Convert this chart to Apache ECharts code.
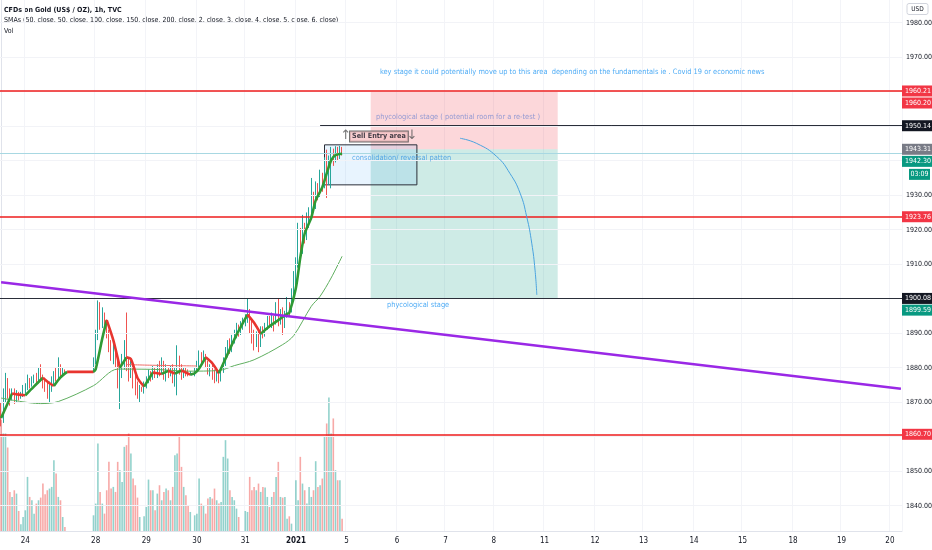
<!DOCTYPE html>
<html><head><meta charset="utf-8">
<script src="https://cdn.jsdelivr.net/npm/echarts@6/dist/echarts.min.js"></script>
<style>html,body{margin:0;padding:0;background:#fff}#c{width:932px;height:550px}</style>
</head><body><div id="c"></div>
<script>
const FONT = "'Liberation Sans Narrow','DejaVu Sans Condensed','Liberation Sans',sans-serif";
const TOTAL_SLOTS = 410;
const dayLabels = ['24','28','29','30','31','2021','5','6','7','8','11','12','13','14','15','18','19','20'];
const dayStarts = [11,43,66,89,111,134,157,180,202,224,247,270,292,315,337,360,382,404];
const yTicks = [1840,1850,1860,1870,1880,1890,1900,1910,1920,1930,1940,1950,1960,1970,1980];

const firstOpen = 1868;
const closes = [1865,1872,1877,1873,1871,
1872.5,1871,1872,1871.5,1872,1873.5,
1874,1876,1875,1876.5,1877,1876,1878,1877,1876,
1875,1873.5,1874.5,1876,1878,
1877.5,1879,1878,1879,1878.7,
1878.7,1878.7,1878.7,1878.7,1878.7,1878.7,1878.7,1878.7,1878.7,1878.7,1878.7,1878.7,
1882,1889,1896,1893,1895,1893.5,1890,
1886,1884,1885.5,1882,1878,1880,1882,1886,1881,
1879,1880.5,1877,1875,1873,1874,1873.5,
1875,1876.5,1878,1877,1879,1878,
1879.5,1878.5,1880,1877.5,1879,1878,1879.5,1877,1879,1882,1879,1878,1879,1878.5,1878,1878.3,1878.3,
1879.5,1881,1883,1882,1883.5,1881,1879.5,
1880,1878.5,1877,1878,1876.5,1879,
1882,1884,1886.5,1885.5,1888,1889.5,1891,1890,1892,1893,1894,1896,
1892,1890,1887.5,1889,1888,1890.5,1890,
1892,1893.5,1892.5,1894,1893,1895.5,1894,1896,1893,
1895,1897.5,1896.5,1901,1906,1910.5,1919,1914,1920,1918,1923,1924,1929,1927,1932,1930.5,1935,1933,1938,1934,1939,1942.5,1940.5,1943,1941.5,1943.3,1942.3];
const highs = [1870,1874,1878.5,1877,1874,
1874,1874,1873.5,1873,1873,1875,
1875.5,1878,1877,1877.5,1878,1878.5,1880,1881,1878,
1877,1876,1876,1877.5,1879,
1880,1883,1881,1880,1879.5,
1878.7,1878.7,1878.7,1878.7,1878.7,1878.7,1878.7,1878.7,1878.7,1878.7,1878.7,1878.7,
1883,1891,1899.5,1899,1897.5,1896,1894,
1891,1888,1887,1886.5,1883,1881,1884,1888,1896,
1883,1882,1881,1878,1876,1875,1874.5,
1876,1877.5,1879.5,1879,1880.5,1880,
1881,1882,1883,1882,1881,1880,1880.5,1881,1880,1886.5,1883.5,1881,1880,1880,1879.5,1879,1878.5,
1880,1882,1885,1884.5,1885,1884,1882,
1881,1881,1879.5,1879,1879,1880,
1883,1886,1888,1888.5,1889.5,1891,1893,1892.5,1893.5,1894.5,1895.5,1900,
1897,1894,1891,1890.5,1891,1892,1892,
1893,1895,1895,1896,1895,1899,1900,1897,1897.5,
1896.5,1900.5,1899,1903,1908,1912,1922,1920.5,1924.3,1922,1925,1926.5,1935,1931,1934,1933.5,1937.4,1936.5,1941,1943.2,1941.5,1944,1943.5,1944.2,1944,1944.3,1944];
const lows = [1863,1864,1870,1871,1869,
1870.5,1869.5,1870,1870.5,1871,1871.5,
1872.5,1873.5,1874,1874.5,1875.5,1875,1875.5,1876,1874,
1873,1871,1869.8,1873,1875,
1876,1877,1877,1877.5,1878,
1878.7,1878.7,1878.7,1878.7,1878.7,1878.7,1878.7,1878.7,1878.7,1878.7,1878.7,1878.7,
1878.5,1881,1888,1891,1891.5,1892,1888.5,
1884.5,1882,1881,1880,1874,1868,1877,1879.5,1879,
1876,1877,1874,1872,1871,1870,1873,
1872.5,1874,1875.5,1876,1876.5,1877,
1877,1877.5,1878,1876.5,1876,1877,1877.5,1875.5,1874.5,1872,1878,1876.5,1877,1877.5,1877.5,1877.8,1878.1,
1877.5,1878.5,1880,1881,1881.5,1880,1878,
1877.5,1876.5,1875.5,1876,1875.5,1876,
1878.5,1880.5,1883,1884,1884.5,1887,1888.5,1889,1889.5,1891,1892,1893,
1890,1887,1885,1886,1884.5,1886,1888.5,
1889,1891,1891.5,1891.5,1890.5,1892.5,1892,1892.5,1889.5,
1891.5,1894.5,1895,1896,1900.5,1903,1909,1912.5,1913,1916,1917,1920.5,1923,1925,1926,1928.5,1929.5,1931,1932,1929.2,1933,1932,1938.5,1939.5,1940,1940.5,1941.5];
const volumes = [332,292,292,250,117,102,122,112,60,20,42,62,162,102,92,52,82,92,100,142,110,122,127,132,212,172,102,92,42,12,
0,0,0,0,0,0,0,0,0,0,0,0,
47,82,262,117,82,52,122,207,127,132,
117,207,182,147,252,257,292,232,157,137,
100,42,0,44,72,154,122,122,62,112,
137,92,117,127,122,92,132,227,232,282,
192,132,107,77,57,0,47,52,157,82,
77,52,97,102,97,127,92,82,87,222,
272,217,122,102,92,67,42,0,0,60,
57,162,122,132,122,142,117,132,130,102,
72,102,117,162,207,102,100,102,37,44,
22,0,152,92,222,142,122,82,132,102,
122,209,132,137,157,282,322,400,292,337,
182,152,152,37];

const fastSMA = [[0,1865.4],[5,1872.5],[8,1872.2],[11,1872.0],[15,1874.6],[19,1877.1],[22,1875.5],[24,1874.7],[27,1877.2],[30,1878.8],[42,1878.8],[43,1879.6],[46,1888.5],[48,1893.8],[51,1888],[54,1880],[57,1883],[59,1882.5],[62,1877],[65,1874.5],[69,1878.6],[73,1878.2],[76,1879.1],[79,1878.3],[82,1879.2],[86,1878],[88,1878.4],[90,1879.8],[93,1883],[96,1881.3],[99,1878.4],[103,1884],[107,1889.5],[112,1895.4],[115,1893],[118,1889.8],[122,1892],[126,1893.8],[130,1895.6],[131,1895.9],[134,1903.1],[136,1911.9],[138,1918.9],[141,1923.5],[143,1928.5],[146,1932.3],[148,1936.3],[150,1940.1],[152,1941.6],[155,1942]];
const slowSMA = [[0,1871.2],[18,1869.6],[26,1870.2],[42,1874.8],[53,1879.6],[70,1879.5],[85,1879],[99,1879.2],[106,1880.6],[115,1882.3],[128,1886.7],[133,1889.3],[141,1897.8],[145,1900.7],[150,1906],[155,1912.3]];
const midSMA = [[57,1880.9],[70,1880.7],[89,1880.5]];
const trendLine = [[0,1904.8],[409,1873.9]];
const arcPath = [[208.6,1946.5],[216.2,1945.0],[225.3,1941.2],[231.3,1936.3],[235.9,1930.6],[238.9,1923.8],[241.2,1916.1],[242.7,1908.3],[243.5,1901.1]];

const redLevels = [1960.21, 1923.76, 1860.70];
const blackLevel = 1900.08;
const sellLevel = 1950.14, sellLevelFrom = 145;
const lastPrice = 1942.30, prevPrice = 1943.31, countdown = '03:09', bidPrice = 1899.59, stopTag = 1960.20;
const posFrom = 168, posTo = 253, stopPrice = 1960.2, entryPrice = 1943.3, targetPrice = 1900.1;
const boxFrom = 147, boxTo = 189, boxTop = 1944.6, boxBottom = 1933.0;

const notes = [
  {x:172.2, y:1965.7, text:'key stage it could potentially move up to this area  depending on the fundamentals ie . Covid 19 or economic news', color:'#2196f3'},
  {x:170.4, y:1952.7, text:'phycological stage ( potential room for a re-test )', color:'#7b8bd1'},
  {x:159.5, y:1940.8, text:'consolidation/ reversal patten', color:'#3b97e3'},
  {x:175.4, y:1898.2, text:'phycological stage', color:'#2196f3'}
];

const UP = '#26a69a', DOWN = '#ef5350';
const candles = closes.map((c,i)=>[i===0?firstOpen:closes[i-1], c, lows[i], highs[i]]);
const volData = volumes.map((v,i)=>({value:v, itemStyle:{color: candles[i][1] >= candles[i][0] ? 'rgba(38,166,154,0.5)' : 'rgba(239,83,80,0.5)'}}));
const categories = Array.from({length: TOTAL_SLOTS}, (_, i) => String(i));
const labelMap = {}; dayStarts.forEach((s,k)=>labelMap[s]=dayLabels[k]);

const runs = [];
for (let k=0;k<fastSMA.length-1;k++){
  const a=fastSMA[k], b=fastSMA[k+1]; const up = b[1] > a[1];
  const last = runs[runs.length-1];
  if (last && last.up === up) last.pts.push(b); else runs.push({up, pts:[a,b]});
}
const fastSeries = runs.map(r=>({type:'line', xAxisIndex:1, yAxisIndex:0, data:r.pts, showSymbol:false, smooth:0.25, silent:true, z:5,
  lineStyle:{color: r.up ? '#2f9a35' : '#e8352f', width:2.6}}));

const full = v => [{coord:[-0.5,v]},{coord:[409.5,v]}];
const option = {
  animation:false,
  grid:{left:0,right:30,top:0,bottom:19, containLabel:false, outerBoundsMode:'none'},
  xAxis:[
    {type:'category', data:categories, boundaryGap:true, gridIndex:0,
     axisLine:{show:true, lineStyle:{color:'#e0e3eb'}}, axisTick:{show:false},
     axisLabel:{interval:(idx)=>labelMap[idx]!==undefined, margin:6, fontSize:8, color:'#131722', fontFamily:FONT,
       formatter:(v)=>{const l=labelMap[Number(v)]; if(l===undefined) return ''; return l==='2021' ? '{b|2021}' : l;},
       rich:{b:{fontWeight:'bold', fontSize:8, color:'#131722', fontFamily:FONT}}},
     splitLine:{show:true, interval:(idx)=>labelMap[idx]!==undefined, lineStyle:{color:'#f3f4f8'}}},
    {type:'value', min:-0.5, max:409.5, show:false, gridIndex:0}
  ],
  yAxis:[
    {type:'value', position:'right', min:1832.67, max:1986.58, scale:true,
     axisLine:{show:true, lineStyle:{color:'#e0e3eb'}}, axisTick:{show:false}, splitLine:{show:false},
     axisLabel:{customValues:yTicks, formatter:v=>Number(v).toFixed(2), fontSize:7, color:'#131722', margin:4, fontFamily:FONT}},
    {type:'value', min:0, max:1590, show:false}
  ],
  series:[
    {type:'line', xAxisIndex:1, yAxisIndex:0, data:[], silent:true, z:0,
     markLine:{silent:true, symbol:'none', label:{show:false}, animation:false,
       lineStyle:{color:'#f2f3f7', width:1, type:'solid'},
       data: yTicks.map(full)}},
    {type:'bar', xAxisIndex:0, yAxisIndex:1, data:volData, barWidth:1.6, silent:true, z:1},
    {type:'candlestick', xAxisIndex:0, yAxisIndex:0, data:candles, barWidth:1.2, silent:true, z:3,
     itemStyle:{color:UP, color0:DOWN, borderColor:UP, borderColor0:DOWN, borderWidth:1}},
    {type:'line', xAxisIndex:1, yAxisIndex:0, data:slowSMA, showSymbol:false, smooth:0.3, silent:true, z:4,
     lineStyle:{color:'#5fae5f', width:1}},
    {type:'line', xAxisIndex:1, yAxisIndex:0, data:midSMA, showSymbol:false, smooth:true, silent:true, z:4,
     lineStyle:{color:'#ef6a66', width:1}},
    ...fastSeries,
    {type:'line', xAxisIndex:1, yAxisIndex:0, data:[], silent:true, z:2,
     markArea:{silent:true, data:[
       [{coord:[posFrom,stopPrice], itemStyle:{color:'rgba(242,54,69,0.2)'}},{coord:[posTo,entryPrice]}],
       [{coord:[posFrom,entryPrice], itemStyle:{color:'rgba(8,153,129,0.2)'}},{coord:[posTo,targetPrice]}],
       [{coord:[boxFrom,boxTop], itemStyle:{color:'rgba(33,150,243,0.1)', borderColor:'#2a2e39', borderWidth:1}},{coord:[boxTo,boxBottom]}]
     ]}},
    {type:'line', xAxisIndex:1, yAxisIndex:0, data:[], silent:true, z:6,
     markLine:{silent:true, symbol:'none', label:{show:false}, animation:false, data:[
       ...redLevels.map(v=>{const d=full(v); d[0].lineStyle={color:'#ee1c1c', width:1.5, type:'solid'}; return d;}),
       (()=>{const d=full(blackLevel); d[0].lineStyle={color:'#2a2e39', width:1, type:'solid'}; return d;})(),
       [{coord:[sellLevelFrom,sellLevel], lineStyle:{color:'#2a2e39', width:1, type:'solid'}},{coord:[409.5,sellLevel]}],
       (()=>{const d=full(lastPrice); d[0].lineStyle={color:'#a8d8e2', width:1, type:'solid'}; return d;})()
     ]}},
    {type:'line', xAxisIndex:1, yAxisIndex:0, data:trendLine, showSymbol:false, silent:true, z:7,
     lineStyle:{color:'#9a28e6', width:2.5}},
    {type:'line', xAxisIndex:1, yAxisIndex:0, data:arcPath, showSymbol:false, smooth:true, silent:true, z:7,
     lineStyle:{color:'#4aa3df', width:1}},
    {type:'scatter', xAxisIndex:1, yAxisIndex:0, symbolSize:0, silent:true, z:8,
     data:[
       ...notes.map(n=>({value:[n.x,n.y], label:{show:true, position:'right', distance:0, formatter:n.text, color:n.color, fontSize:7.4, fontFamily:FONT}})),
       {value:[158.6,1947.0], label:{show:true, position:'right', distance:0, formatter:'Sell Entry area', color:'#131722', fontWeight:'bold', fontSize:7.2, fontFamily:FONT,
          backgroundColor:'#f6c3c5', borderColor:'#4a4a4a', borderWidth:1, padding:[2,2,1,2]}},
       {value:[156.6,1947.3], label:{show:true, position:'inside', formatter:'↑', color:'#555', fontSize:13, fontFamily:'DejaVu Sans'}},
       {value:[186.8,1947.3], label:{show:true, position:'inside', formatter:'↓', color:'#555', fontSize:13, fontFamily:'DejaVu Sans'}}
     ]}
  ],
  graphic:[
    {type:'text', style:{x:4, y:10, text:'CFDs on Gold (US$ / OZ), 1h, TVC', font:"bold 7px "+FONT, fill:'#131722', verticalAlign:'middle'}},
    {type:'text', style:{x:4, y:20.5, text:'SMAs (50, close, 50, close, 100, close, 150, close, 200, close, 2, close, 3, close, 4, close, 5, close, 6, close)', font:"7px "+FONT, fill:'#131722', verticalAlign:'middle'}},
    {type:'text', style:{x:4, y:31, text:'Vol', font:"7px "+FONT, fill:'#131722', verticalAlign:'middle'}}
  ]
};
const chart = echarts.init(document.getElementById('c'), null, {renderer:'canvas'});
chart.setOption(option);

const tags = [
  {v:1960.21, bg:'#f23645', dy:0},
  {v:stopTag, bg:'#f23645', dy:12},
  {v:sellLevel, bg:'#131722', dy:0},
  {v:prevPrice, bg:'#787b86', dy:0},
  {v:lastPrice, bg:'#089981', dy:8.6},
  {v:lastPrice, bg:'#089981', dy:21.6, text:countdown, narrow:true},
  {v:1923.76, bg:'#f23645', dy:0},
  {v:blackLevel, bg:'#131722', dy:0},
  {v:bidPrice, bg:'#089981', dy:10},
  {v:1860.70, bg:'#f23645', dy:0}
];
const g = [];
tags.forEach(t=>{
  const y = chart.convertToPixel({yAxisIndex:0}, t.v) + t.dy;
  const x0 = t.narrow ? 909 : 902, w = t.narrow ? 21 : 30;
  g.push({type:'rect', z:100, shape:{x:x0, y:y-5.5, width:w, height:11}, style:{fill:t.bg}});
  g.push({type:'text', z:101, style:{x:t.narrow?919.5:905, y:y, text:t.text||t.v.toFixed(2), font:"7px "+FONT, fill:'#fff', verticalAlign:'middle', align:t.narrow?'center':'left'}});
});
g.push({type:'rect', z:100, shape:{x:907, y:3.5, width:21, height:11, r:2}, style:{fill:'#fff', stroke:'#d1d4dc', lineWidth:1}});
g.push({type:'text', z:101, style:{x:917.5, y:9, text:'USD', font:"6.5px "+FONT, fill:'#131722', align:'center', verticalAlign:'middle'}});
chart.setOption({graphic: option.graphic.concat(g)});
</script>
</body></html>
